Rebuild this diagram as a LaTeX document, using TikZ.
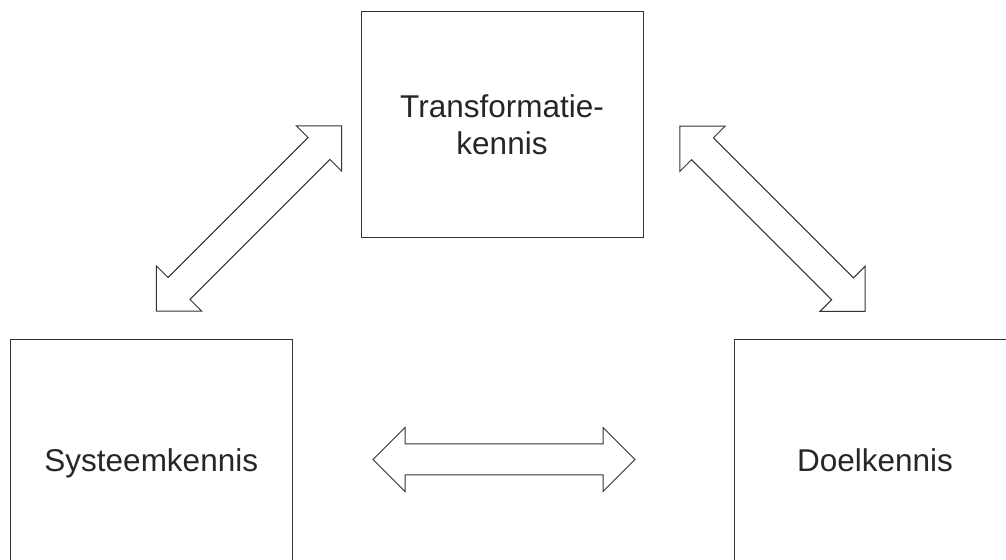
\documentclass[tikz,border=0pt]{standalone}
\usepackage{fontspec}
\setmainfont{Liberation Sans}
\usetikzlibrary{shapes.arrows, positioning}

\begin{document}
\begin{tikzpicture}[
        x=0.5pt, y=0.5pt,
        kennis/.style={
            draw=black!80, line width=0.5pt, text=black!85,
            minimum width=141pt, minimum height=113pt,
            align=center, inner sep=0pt,
            font=\fontsize{15.75}{18.75}\selectfont
        },
        onder/.style={
            kennis, minimum height=123.5pt,
            text height=11.5pt, text depth=3.3pt
        },
        wissel/.style={
            double arrow, draw=black!80, line width=0.5pt,
            double arrow tip angle=90, double arrow head extend=8.25pt,
            inner xsep=0pt, inner ysep=7.5pt, minimum height=131pt
        }
    ]
    \useasboundingbox (0, 0) rectangle (1006, 560);
    \node[kennis] (transformatie) at (502, 435) {Transformatie-\\kennis};
    \node[onder] (systeem) at (151.25, 96.5) {Systeemkennis};
    \node[onder] (doel) at (875, 96.5) {Doelkennis};

    \node[wissel, rotate=45] (pijlLinks) at (249, 341.5) {};
    \node[wissel, rotate=-45] (pijlRechts) at (772.5, 341.2) {};
    \node[wissel] (pijlOnder) at (504, 100.5) {};
\end{tikzpicture}
\end{document}
